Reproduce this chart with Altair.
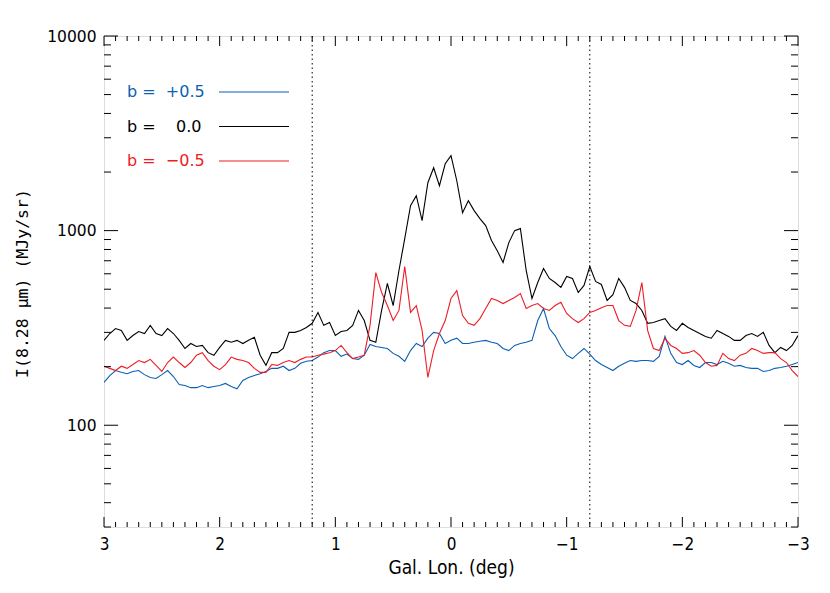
import altair as alt
import pandas as pd

# ---------------- data ----------------
lon = [round(3 - 0.05 * i, 2) for i in range(121)]   # 3.00 ... -3.00

b_zero = [273, 296, 314, 307, 273, 289, 303, 296, 326, 296,
          289, 314, 296, 273, 248, 263, 254, 257, 236, 229,
          251, 273, 267, 273, 263, 273, 283, 229, 203, 236,
          236, 248, 300, 300, 307, 318, 334, 380, 326, 337,
          289, 303, 307, 326, 389, 345, 273, 267, 389, 535,
          412, 624, 910, 1342, 1511, 1125, 1762, 2104, 1701, 2205,
          2427, 1804, 1237, 1424, 1267, 1152, 1061, 889, 789, 686,
          868, 1000, 1024, 624, 448, 541, 639, 568, 541, 511,
          581, 568, 481, 523, 654, 548, 529, 438, 469, 568,
          511, 438, 422, 389, 334, 337, 345, 353, 322, 307,
          334, 318, 307, 296, 286, 280, 307, 296, 286, 273,
          273, 289, 296, 286, 300, 257, 236, 251, 242, 257,
          289]

b_neg = [201, 196, 191, 201, 196, 205, 215, 210, 218, 203,
         189, 210, 224, 210, 198, 210, 229, 236, 215, 201,
         193, 205, 224, 218, 215, 210, 196, 187, 187, 205,
         203, 210, 215, 210, 218, 224, 224, 229, 232, 236,
         242, 257, 236, 220, 224, 229, 326, 609, 481, 412,
         345, 389, 654, 380, 412, 307, 176, 242, 296, 345,
         448, 492, 366, 334, 326, 353, 398, 448, 438, 422,
         438, 453, 475, 398, 412, 422, 398, 389, 412, 428,
         375, 353, 337, 353, 380, 389, 402, 412, 412, 345,
         326, 322, 389, 541, 307, 248, 242, 280, 257, 248,
         234, 236, 242, 229, 210, 201, 203, 234, 220, 215,
         229, 234, 248, 242, 234, 236, 236, 220, 210, 191,
         178]

b_pos = [166, 180, 191, 187, 184, 189, 191, 182, 176, 174,
         182, 191, 178, 162, 160, 156, 156, 160, 156, 158,
         160, 164, 158, 154, 170, 176, 180, 184, 189, 196,
         196, 201, 191, 196, 208, 213, 215, 224, 236, 242,
         242, 226, 232, 220, 218, 229, 260, 254, 251, 248,
         234, 226, 213, 242, 263, 254, 280, 300, 296, 263,
         273, 280, 263, 263, 267, 270, 273, 267, 263, 248,
         242, 257, 263, 267, 273, 345, 398, 314, 289, 254,
         229, 220, 234, 248, 232, 215, 205, 198, 191, 201,
         208, 215, 213, 215, 215, 213, 226, 286, 234, 210,
         205, 215, 203, 198, 210, 210, 205, 213, 208, 201,
         203, 198, 196, 196, 189, 191, 196, 198, 201, 205,
         210]

series_names = ["+0.5", "0.0", "\u22120.5"]
legend_labels = ["b\u00a0=\u00a0\u00a0+0.5", "b\u00a0=\u00a0\u00a0\u00a0\u00a00.0", "b\u00a0=\u00a0\u00a0\u22120.5"]
series_colors = ["#0b5fb5", "#000000", "#ee1c25"]
x_major = [3, 2, 1, 0, -1, -2, -3]
y_major = [100, 1000, 10000]
marker_lon = [1.2, -1.2]

# ---------------- layout ----------------
W, H = 694, 491

rows = []
for name, vals in zip(series_names, [b_pos, b_zero, b_neg]):
    for l, v in zip(lon, vals):
        rows.append({"lon": l, "val": v, "series": name})
df = pd.DataFrame(rows)

xscale = alt.Scale(domain=[-3, 3], reverse=True, nice=False, zero=False)
yscale = alt.Scale(type="log", domain=[30, 10000], nice=False)

x_axis = alt.Axis(values=x_major, format="d", title="Gal. Lon. (deg)",
                  ticks=False, domain=False, grid=False, labelOverlap=False,
                  labelFont="DejaVu Sans Condensed", labelFontSize=17, labelColor="black",
                  labelPadding=9, labelFlush=False,
                  titleFont="DejaVu Sans Condensed", titleFontSize=19, titleFontWeight="normal",
                  titleColor="black", titleX=W / 2, titleY=40, titleBaseline="middle")
y_axis = alt.Axis(values=y_major, format="d", title="I(8.28 \u03bcm) (MJy/sr)",
                  ticks=False, domain=False, grid=False, labelOverlap=False,
                  labelFont="DejaVu Sans", labelFontSize=15.5, labelColor="black",
                  labelPadding=8, labelFlush=False,
                  titleFont="DejaVu Sans Mono", titleFontSize=16.5, titleFontWeight="normal",
                  titleColor="black", titleX=-82, titleY=247, titleAngle=270,
                  titleAlign="center", titleBaseline="middle")

X = alt.X("lon:Q", scale=xscale, axis=x_axis)
Y = alt.Y("val:Q", scale=yscale, axis=y_axis)

lines = alt.Chart(df).mark_line(strokeWidth=1.1, clip=True).encode(
    x=X, y=Y,
    color=alt.Color("series:N", scale=alt.Scale(domain=series_names, range=series_colors), legend=None),
)

vlines = alt.Chart(pd.DataFrame({"lon": marker_lon})).mark_rule(
    color="black", strokeWidth=1, strokeDash=[1.5, 3]).encode(x=X)

# inward ticks on all four sides (IDL style)
x_minor = [round(-3 + 0.1 * k, 1) for k in range(61)]
x_minor = [v for v in x_minor if v not in x_major]
y_minor = [m * 10 ** e for e in (1, 2, 3) for m in range(2, 10)]
y_minor = [v for v in y_minor if 30 <= v <= 10000]

tick_layers = []
for vals, ln in ((x_major, 10), (x_minor, 5)):
    d = pd.DataFrame({"lon": vals})
    base = alt.Chart(d).mark_rule(color="black", strokeWidth=1)
    tick_layers.append(base.encode(x=X, y=alt.value(H), y2=alt.value(H - ln)))
    tick_layers.append(base.encode(x=X, y=alt.value(0), y2=alt.value(ln)))
for vals, ln in ((y_major, 14), (y_minor, 7)):
    d = pd.DataFrame({"val": vals})
    base = alt.Chart(d).mark_rule(color="black", strokeWidth=1)
    tick_layers.append(base.encode(y=Y, x=alt.value(0), x2=alt.value(ln)))
    tick_layers.append(base.encode(y=Y, x=alt.value(W), x2=alt.value(W - ln)))

# legend (text left of a short line, inside the plot)
one = pd.DataFrame({"k": [0]})
legend_layers = []
for i, (lab, col) in enumerate(zip(legend_labels, series_colors)):
    yy = 56 + i * 34.5
    legend_layers.append(alt.Chart(one).mark_text(
        align="left", baseline="middle", font="DejaVu Sans", fontSize=16, color=col).encode(
        x=alt.value(23), y=alt.value(yy), text=alt.value(lab)))
    legend_layers.append(alt.Chart(one).mark_rule(color=col, strokeWidth=1.1).encode(
        x=alt.value(115), x2=alt.value(185), y=alt.value(yy)))

chart = alt.layer(lines, vlines, *tick_layers, *legend_layers).properties(
    width=W, height=H,
    autosize=alt.AutoSizeParams(type="none"),
    padding={"left": 96, "top": 28, "right": 24, "bottom": 60},
).configure_view(stroke="black", strokeWidth=1.2).configure(background="white")

chart.save("out.html", embed_options={"renderer": "svg", "actions": False})
